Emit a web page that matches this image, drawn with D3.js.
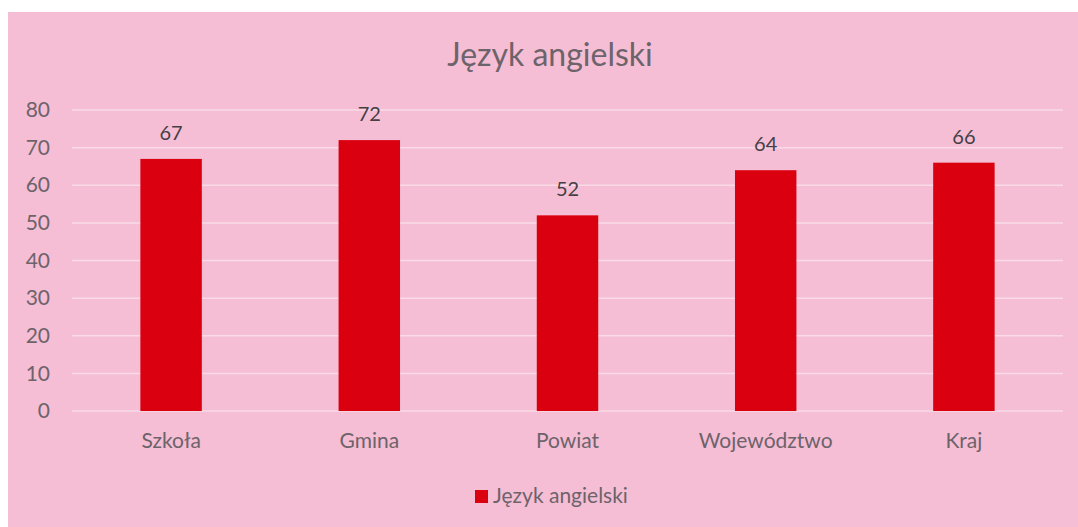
<!DOCTYPE html>
<html>
<head>
<meta charset="utf-8">
<script src="https://cdn.jsdelivr.net/npm/d3@7"></script>
<style>
  html, body { margin: 0; padding: 0; background: #fff; }
  svg { display: block; font-family: Lato, "Open Sans", sans-serif; }
</style>
</head>
<body>
<div id="vis"></div>
<script>
// Język angielski — wykres słupkowy
const width = 1078, height = 527;

const categories = ["Szkoła", "Gmina", "Powiat", "Województwo", "Kraj"];
const values = [67, 72, 52, 64, 66];
const yTicks = [0, 10, 20, 30, 40, 50, 60, 70, 80];
const title = "Język angielski";
const seriesName = "Język angielski";

const margin = {left: 72, right: 15, top: 110, bottom: 116};
const textGray = "#6d636b";

const svg = d3.select("#vis").append("svg")
  .attr("width", width).attr("height", height);

// tło
svg.append("rect")
  .attr("x", 8).attr("y", 12)
  .attr("width", width - 8).attr("height", height - 12)
  .attr("fill", "#f5bed4");

const x = d3.scaleBand()
  .domain(categories)
  .range([margin.left, width - margin.right])
  .paddingInner(0.69).paddingOuter(0.345);

const y = d3.scaleLinear()
  .domain([0, 80])
  .range([height - margin.bottom, margin.top]);

// siatka
svg.append("g").selectAll("line").data(yTicks).enter().append("line")
  .attr("x1", margin.left).attr("x2", width - margin.right)
  .attr("y1", d => y(d)).attr("y2", d => y(d))
  .attr("stroke", "#f9dae6").attr("stroke-width", 1.5);

// oś Y
const yAxis = svg.append("g")
  .attr("transform", `translate(${margin.left - 22},0)`)
  .call(d3.axisLeft(y).tickValues(yTicks).tickSize(0).tickPadding(0));
yAxis.select(".domain").remove();
yAxis.selectAll("text")
  .attr("font-size", 21).attr("fill", textGray)
  .attr("font-family", "Lato, sans-serif");

// oś X
const xAxis = svg.append("g")
  .attr("transform", `translate(0,${y(0)})`)
  .call(d3.axisBottom(x).tickSize(0).tickPadding(0));
xAxis.select(".domain").remove();
xAxis.selectAll("text")
  .attr("dy", null).attr("y", 37)
  .attr("font-size", 21).attr("fill", textGray)
  .attr("font-family", "Lato, sans-serif");

// słupki
svg.append("g").selectAll("rect").data(values).enter().append("rect")
  .attr("x", (d, i) => x(categories[i]))
  .attr("y", d => y(d))
  .attr("width", x.bandwidth())
  .attr("height", d => y(0) - y(d))
  .attr("fill", "#da0010");

// etykiety danych
svg.append("g").selectAll("text").data(values).enter().append("text")
  .attr("x", (d, i) => x(categories[i]) + x.bandwidth() / 2)
  .attr("y", d => y(d) - 19)
  .attr("text-anchor", "middle")
  .attr("font-size", 20).attr("fill", "#464046")
  .text(d => d);

// tytuł
svg.append("text")
  .attr("x", 550).attr("y", 66)
  .attr("text-anchor", "middle")
  .attr("font-size", 32).attr("fill", textGray)
  .text(title);

// legenda
const lg = svg.append("g").attr("transform", "translate(475,490)");
lg.append("rect").attr("width", 13).attr("height", 13).attr("fill", "#da0010");
lg.append("text")
  .attr("x", 18).attr("y", 13)
  .attr("font-size", 21).attr("fill", textGray)
  .text(seriesName);
</script>
</body>
</html>
